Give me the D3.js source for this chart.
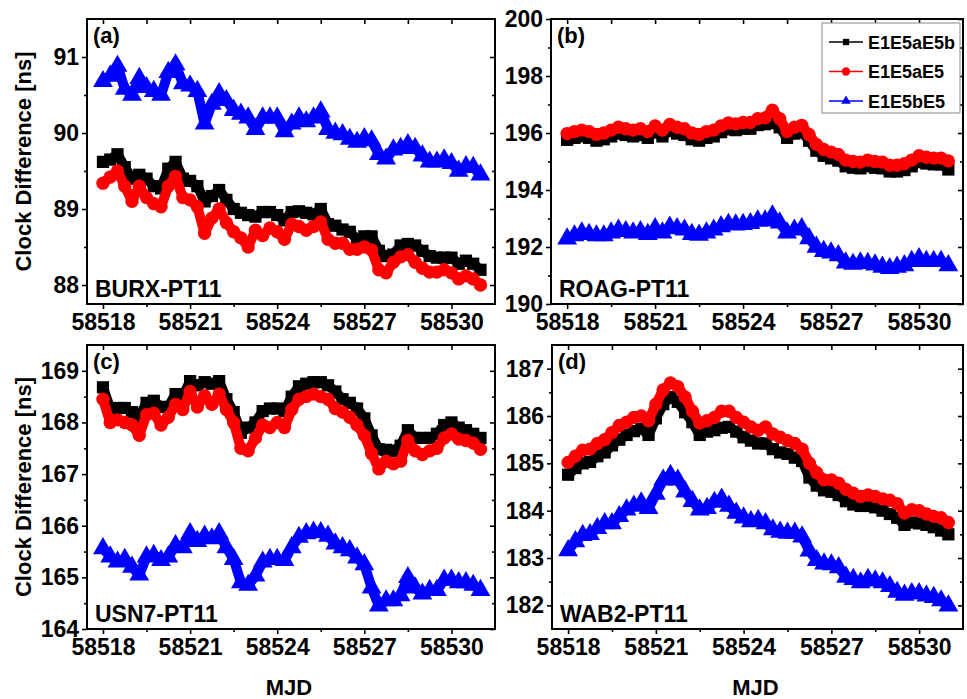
<!doctype html>
<html lang="en">
<head>
    <meta charset="utf-8"/>
    <title>Clock Difference - MJD</title>
    <script src="https://d3js.org/d3.v7.min.js"></script>
    <style>
        body { margin: 0; padding: 0; background: #fff; }
        text { font-family: "Liberation Sans", Arial, sans-serif; font-weight: bold; }
    </style>
</head>
<body>
<script>
    // sampling times (MJD), every 6 hours
    const mjd = [58518, 58518.25, 58518.5, 58518.75, 58519, 58519.25, 58519.5, 58519.75,
        58520, 58520.25, 58520.5, 58520.75, 58521, 58521.25, 58521.5, 58521.75,
        58522, 58522.25, 58522.5, 58522.75, 58523, 58523.25, 58523.5, 58523.75,
        58524, 58524.25, 58524.5, 58524.75, 58525, 58525.25, 58525.5, 58525.75,
        58526, 58526.25, 58526.5, 58526.75, 58527, 58527.25, 58527.5, 58527.75,
        58528, 58528.25, 58528.5, 58528.75, 58529, 58529.25, 58529.5, 58529.75,
        58530, 58530.25, 58530.5, 58530.75, 58531];

    const seriesNames = ['E1E5aE5b', 'E1E5aE5', 'E1E5bE5'];
    const xTicks = [58518, 58521, 58524, 58527, 58530];
    const xMinor = [58519.5, 58522.5, 58525.5, 58528.5];

    // (a) BURX-PT11
    const burxE1E5aE5b = [89.62, 89.65, 89.72, 89.55, 89.4, 89.45, 89.4, 89.3, 89.27, 89.53, 89.62, 89.4, 89.37,
        89.3, 89.1, 89.17, 89.25, 89.12, 89.0, 88.95, 88.92, 88.9, 88.96, 88.96, 88.92, 88.85, 88.96, 88.97,
        88.95, 88.93, 89.0, 88.8, 88.78, 88.73, 88.7, 88.6, 88.64, 88.64, 88.45, 88.38, 88.4, 88.52, 88.54,
        88.52, 88.45, 88.38, 88.36, 88.36, 88.36, 88.28, 88.32, 88.28, 88.2];
    const burxE1E5aE5 = [89.34, 89.42, 89.5, 89.3, 89.1, 89.3, 89.15, 89.07, 89.03, 89.3, 89.43, 89.15, 89.12,
        89.03, 88.68, 88.88, 89.0, 88.82, 88.7, 88.62, 88.5, 88.72, 88.65, 88.75, 88.7, 88.6, 88.8, 88.77,
        88.72, 88.77, 88.83, 88.6, 88.55, 88.55, 88.47, 88.47, 88.5, 88.46, 88.2, 88.16, 88.3, 88.37, 88.4,
        88.3, 88.22, 88.17, 88.17, 88.2, 88.16, 88.08, 88.12, 88.08, 88.0];
    const burxE1E5bE5 = [90.68, 90.75, 90.88, 90.58, 90.5, 90.72, 90.6, 90.55, 90.5, 90.8, 90.9, 90.65, 90.62,
        90.55, 90.12, 90.38, 90.52, 90.43, 90.3, 90.25, 90.2, 90.05, 90.2, 90.2, 90.2, 90.02, 90.12, 90.2,
        90.15, 90.2, 90.28, 90.05, 90.0, 89.98, 89.92, 89.88, 89.93, 89.9, 89.72, 89.66, 89.78, 89.8, 89.85,
        89.8, 89.7, 89.62, 89.62, 89.65, 89.6, 89.5, 89.56, 89.55, 89.45];

    // (b) ROAG-PT11
    const roagE1E5aE5b = [195.76, 195.83, 195.88, 195.83, 195.73, 195.78, 195.88, 195.98, 195.93, 195.88, 195.93,
        195.83, 196.03, 195.88, 196.08, 195.98, 195.93, 195.78, 195.73, 195.83, 195.88, 196.03, 196.13, 196.1,
        196.15, 196.15, 196.28, 196.31, 196.35, 196.2, 195.83, 195.98, 196.05, 195.73, 195.38, 195.2, 195.11,
        195.03, 194.83, 194.78, 194.76, 194.83, 194.78, 194.76, 194.65, 194.65, 194.7, 194.83, 194.98, 194.93,
        194.9, 194.9, 194.72];
    const roagE1E5aE5 = [195.98, 196.05, 196.1, 196.05, 195.95, 196.0, 196.1, 196.2, 196.15, 196.1, 196.15, 196.05,
        196.25, 196.1, 196.3, 196.2, 196.15, 196.0, 195.95, 196.05, 196.1, 196.25, 196.35, 196.32, 196.37,
        196.37, 196.5, 196.53, 196.8, 196.5, 196.05, 196.2, 196.27, 195.95, 195.6, 195.42, 195.33, 195.25,
        195.05, 195.0, 194.98, 195.05, 195.0, 194.98, 194.87, 194.87, 194.92, 195.05, 195.2, 195.15, 195.12,
        195.12, 195.02];
    const roagE1E5bE5 = [192.29, 192.4, 192.5, 192.45, 192.4, 192.4, 192.5, 192.6, 192.55, 192.5, 192.55, 192.45,
        192.65, 192.5, 192.7, 192.65, 192.6, 192.45, 192.42, 192.5, 192.6, 192.72, 192.8, 192.78, 192.8, 192.83,
        192.92, 192.92, 193.1, 192.85, 192.5, 192.6, 192.65, 192.3, 192.0, 191.85, 191.8, 191.7, 191.45, 191.4,
        191.45, 191.43, 191.38, 191.3, 191.25, 191.3, 191.35, 191.5, 191.6, 191.5, 191.5, 191.5, 191.35];

    // (c) USN7-PT11
    const usn7E1E5aE5b = [168.68, 168.27, 168.28, 168.28, 168.2, 168.1, 168.38, 168.42, 168.3, 168.3, 168.55,
        168.5, 168.8, 168.72, 168.78, 168.75, 168.8, 168.45, 168.2, 167.8, 167.9, 168.0, 168.22, 168.27, 168.27,
        168.22, 168.5, 168.7, 168.75, 168.78, 168.78, 168.72, 168.6, 168.45, 168.38, 168.27, 168.08, 167.75,
        167.48, 167.47, 167.45, 167.55, 167.85, 167.7, 167.7, 167.7, 167.78, 167.95, 168.0, 167.9, 167.85,
        167.78, 167.7];
    const usn7E1E5aE5 = [168.45, 168.0, 168.05, 168.0, 167.95, 167.75, 168.15, 168.18, 167.95, 168.1, 168.35,
        168.25, 168.6, 168.3, 168.52, 168.35, 168.55, 168.25, 168.0, 167.5, 167.45, 167.7, 167.95, 167.9, 168.0,
        167.9, 168.25, 168.45, 168.5, 168.55, 168.5, 168.45, 168.27, 168.2, 168.1, 167.95, 167.75, 167.4, 167.1,
        167.25, 167.2, 167.25, 167.65, 167.45, 167.38, 167.45, 167.5, 167.7, 167.78, 167.68, 167.65, 167.6,
        167.48];
    const usn7E1E5bE5 = [165.56, 165.4, 165.3, 165.35, 165.2, 165.05, 165.4, 165.43, 165.33, 165.4, 165.62, 165.58,
        165.85, 165.7, 165.8, 165.75, 165.85, 165.58, 165.35, 164.9, 164.85, 165.03, 165.3, 165.35, 165.35,
        165.33, 165.58, 165.78, 165.85, 165.88, 165.87, 165.8, 165.65, 165.58, 165.52, 165.38, 165.25, 164.8,
        164.45, 164.55, 164.55, 164.65, 165.0, 164.8, 164.68, 164.75, 164.75, 164.95, 164.95, 164.9, 164.9,
        164.85, 164.75];

    // (d) WAB2-PT11
    const wab2E1E5aE5b = [184.76, 184.9, 185.0, 185.03, 185.15, 185.23, 185.38, 185.5, 185.6, 185.68, 185.73,
        185.6, 185.95, 186.25, 186.4, 186.3, 186.08, 185.87, 185.6, 185.67, 185.7, 185.75, 185.77, 185.67,
        185.55, 185.48, 185.42, 185.42, 185.3, 185.23, 185.2, 185.12, 185.05, 184.7, 184.53, 184.43, 184.4,
        184.33, 184.2, 184.13, 184.1, 184.1, 184.07, 184.0, 183.93, 183.85, 183.7, 183.75, 183.73, 183.7,
        183.65, 183.58, 183.5];
    const wab2E1E5aE5 = [185.02, 185.15, 185.28, 185.3, 185.42, 185.5, 185.65, 185.8, 185.87, 185.97, 186.0,
        185.9, 186.25, 186.55, 186.7, 186.62, 186.4, 186.1, 185.85, 185.9, 185.97, 186.1, 186.1, 185.97, 185.87,
        185.77, 185.7, 185.77, 185.62, 185.55, 185.48, 185.42, 185.3, 185.0, 184.8, 184.65, 184.65, 184.58,
        184.45, 184.37, 184.3, 184.33, 184.3, 184.25, 184.22, 184.15, 183.95, 184.02, 184.0, 183.93, 183.88,
        183.85, 183.75];
    const wab2E1E5bE5 = [183.16, 183.35, 183.48, 183.5, 183.63, 183.73, 183.73, 183.88, 184.02, 184.1, 184.17,
        184.05, 184.35, 184.65, 184.75, 184.65, 184.4, 184.2, 184.02, 184.05, 184.18, 184.25, 184.1, 183.95,
        183.85, 183.77, 183.8, 183.73, 183.6, 183.55, 183.53, 183.53, 183.45, 183.15, 182.95, 182.88, 182.86,
        182.8, 182.6, 182.55, 182.48, 182.55, 182.52, 182.48, 182.4, 182.28, 182.22, 182.25, 182.25, 182.2,
        182.17, 182.1, 181.99];

    const colors = ['#000000', '#ff0000', '#0000ff'];
    const symbols = [d3.symbolSquare, d3.symbolCircle, d3.symbolTriangle];
    const symbolSizes = [150, 140, 170];

    // panel layout
    const panels = [
        {tag: '(a)', station: 'BURX-PT11', left: 87, top: 19, right: 495, bottom: 304,
            yDomain: [87.75, 91.5], yTicks: [88, 89, 90, 91], yMinor: [88.5, 89.5, 90.5],
            data: [burxE1E5aE5b, burxE1E5aE5, burxE1E5bE5], yLabel: true, xLabel: false},
        {tag: '(b)', station: 'ROAG-PT11', left: 551, top: 19, right: 963, bottom: 304,
            yDomain: [190, 200], yTicks: [190, 192, 194, 196, 198, 200], yMinor: [191, 193, 195, 197, 199],
            data: [roagE1E5aE5b, roagE1E5aE5, roagE1E5bE5], yLabel: false, xLabel: false, legend: true},
        {tag: '(c)', station: 'USN7-PT11', left: 87, top: 345, right: 495, bottom: 629,
            yDomain: [164, 169.5], yTicks: [164, 165, 166, 167, 168, 169], yMinor: [164.5, 165.5, 166.5, 167.5, 168.5],
            data: [usn7E1E5aE5b, usn7E1E5aE5, usn7E1E5bE5], yLabel: true, xLabel: true},
        {tag: '(d)', station: 'WAB2-PT11', left: 552, top: 345, right: 963, bottom: 629,
            yDomain: [181.5, 187.5], yTicks: [182, 183, 184, 185, 186, 187], yMinor: [182.5, 183.5, 184.5, 185.5, 186.5],
            data: [wab2E1E5aE5b, wab2E1E5aE5, wab2E1E5bE5], yLabel: false, xLabel: true}
    ];

    const svg = d3.select('body').append('svg')
        .attr('width', 967)
        .attr('height', 699);

    panels.forEach(function (p) {
        const x = d3.scaleLinear().domain([58517.45, 58531.5]).range([p.left, p.right]);
        const y = d3.scaleLinear().domain(p.yDomain).range([p.bottom, p.top]);
        const g = svg.append('g');

        // series: thick line plus overlapping markers -> solid band
        p.data.forEach(function (vals, k) {
            const pts = mjd.map((t, i) => [t, vals[i]]);
            g.append('path')
                .datum(pts)
                .attr('fill', 'none')
                .attr('stroke', colors[k])
                .attr('stroke-width', 10)
                .attr('stroke-linejoin', 'round')
                .attr('d', d3.line().x(d => x(d[0])).y(d => y(d[1])));
            g.selectAll('.m' + k)
                .data(pts)
                .enter()
                .append('path')
                .attr('transform', d => `translate(${x(d[0])},${y(d[1])})`)
                .attr('d', d3.symbol().type(symbols[k]).size(symbolSizes[k]))
                .attr('fill', colors[k]);
        });

        // axes: outward ticks left/bottom, inward mirror ticks top/right
        const fmt = d3.format('d');
        const styleAxis = function (sel, showText) {
            sel.select('.domain').remove();
            sel.selectAll('line').attr('stroke', '#000').attr('stroke-width', 1.6);
            if (showText) {
                sel.selectAll('text').attr('font-size', 23).attr('fill', '#000');
            } else {
                sel.selectAll('text').remove();
            }
        };

        g.append('g').attr('transform', `translate(0,${p.bottom})`)
            .call(d3.axisBottom(x).tickValues(xTicks).tickFormat(fmt).tickSize(5).tickPadding(5))
            .call(s => styleAxis(s, true));
        g.append('g').attr('transform', `translate(0,${p.bottom})`)
            .call(d3.axisBottom(x).tickValues(xMinor).tickSize(3))
            .call(s => styleAxis(s, false));
        g.append('g').attr('transform', `translate(0,${p.top})`)
            .call(d3.axisTop(x).tickValues(xTicks.concat(xMinor)).tickSize(-5))
            .call(s => styleAxis(s, false));

        g.append('g').attr('transform', `translate(${p.left},0)`)
            .call(d3.axisLeft(y).tickValues(p.yTicks).tickFormat(fmt).tickSize(5).tickPadding(3))
            .call(s => styleAxis(s, true));
        g.append('g').attr('transform', `translate(${p.left},0)`)
            .call(d3.axisLeft(y).tickValues(p.yMinor).tickSize(3))
            .call(s => styleAxis(s, false));
        g.append('g').attr('transform', `translate(${p.right},0)`)
            .call(d3.axisRight(y).tickValues(p.yTicks).tickSize(-5))
            .call(s => styleAxis(s, false));
        g.append('g').attr('transform', `translate(${p.right},0)`)
            .call(d3.axisRight(y).tickValues(p.yMinor).tickSize(-3))
            .call(s => styleAxis(s, false));

        // frame
        g.append('rect')
            .attr('x', p.left).attr('y', p.top)
            .attr('width', p.right - p.left).attr('height', p.bottom - p.top)
            .attr('fill', 'none').attr('stroke', '#000').attr('stroke-width', 2);

        // panel tag and station pair
        g.append('text').attr('x', p.left + 6).attr('y', p.top + 24)
            .attr('font-size', 22).text(p.tag);
        g.append('text').attr('x', p.left + 8).attr('y', p.bottom - 7)
            .attr('font-size', 23).text(p.station);

        if (p.yLabel) {
            g.append('text')
                .attr('transform', `translate(31,${(p.top + p.bottom) / 2}) rotate(-90)`)
                .attr('text-anchor', 'middle')
                .attr('font-size', 22)
                .text('Clock Difference [ns]');
        }
        if (p.xLabel) {
            g.append('text')
                .attr('x', (p.left + p.right) / 2 - 2).attr('y', 695)
                .attr('text-anchor', 'middle')
                .attr('font-size', 22)
                .text('MJD');
        }

        if (p.legend) {
            const lg = g.append('g');
            lg.append('rect')
                .attr('x', 822).attr('y', 23).attr('width', 138).attr('height', 90)
                .attr('fill', '#fff').attr('stroke', '#888').attr('stroke-width', 1);
            seriesNames.forEach(function (name, k) {
                const cy = 42 + k * 29.5;
                lg.append('line').attr('x1', 829).attr('x2', 863).attr('y1', cy).attr('y2', cy)
                    .attr('stroke', colors[k]).attr('stroke-width', 1.6);
                lg.append('path')
                    .attr('transform', `translate(846,${cy})`)
                    .attr('d', d3.symbol().type(symbols[k]).size(k === 1 ? 55 : 40))
                    .attr('fill', colors[k]);
                lg.append('text').attr('x', 868).attr('y', cy + 6.5)
                    .attr('font-size', 18).text(name);
            });
        }
    });
</script>
</body>
</html>
